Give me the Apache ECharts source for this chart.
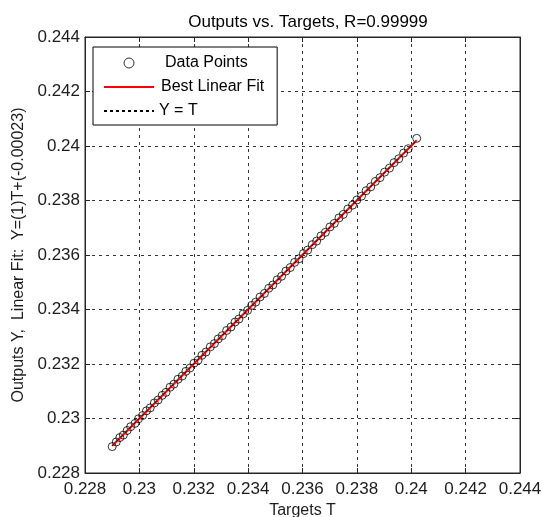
<!DOCTYPE html>
<html><head><meta charset="utf-8">
<script src="https://cdn.jsdelivr.net/npm/echarts@6/dist/echarts.min.js"></script>
<style>html,body{margin:0;padding:0;background:#fff}#c{width:542px;height:517px}</style>
</head><body><div id="c"></div>
<script>
var targetsT = [0.22900,0.22915,0.22928,0.22941,0.22955,0.22968,0.22984,0.22997,0.23012,0.23026,0.23040,0.23055,0.23069,0.23084,0.23098,0.23113,0.23127,0.23142,0.23158,0.23171,0.23186,0.23201,0.23216,0.23230,0.23245,0.23261,0.23276,0.23290,0.23305,0.23321,0.23337,0.23352,0.23366,0.23382,0.23398,0.23413,0.23428,0.23444,0.23460,0.23476,0.23491,0.23507,0.23523,0.23539,0.23555,0.23571,0.23587,0.23603,0.23619,0.23636,0.23652,0.23668,0.23684,0.23701,0.23717,0.23734,0.23750,0.23767,0.23784,0.23800,0.23817,0.23834,0.23851,0.23868,0.23885,0.23902,0.23920,0.23937,0.23954,0.23972,0.23989,0.24020];
var outputsY = [0.22897,0.22914,0.22930,0.22939,0.22956,0.22970,0.22982,0.22999,0.23011,0.23028,0.23039,0.23057,0.23068,0.23085,0.23096,0.23115,0.23126,0.23144,0.23156,0.23173,0.23185,0.23203,0.23214,0.23232,0.23244,0.23263,0.23275,0.23292,0.23304,0.23323,0.23336,0.23354,0.23365,0.23384,0.23397,0.23415,0.23427,0.23446,0.23459,0.23478,0.23490,0.23509,0.23522,0.23541,0.23554,0.23573,0.23586,0.23605,0.23618,0.23638,0.23651,0.23670,0.23683,0.23703,0.23716,0.23736,0.23749,0.23769,0.23783,0.23802,0.23816,0.23836,0.23850,0.23870,0.23884,0.23904,0.23919,0.23939,0.23953,0.23974,0.23990,0.24028];
var fitT = [0.2290, 0.2402];
var fitY = [0.22900, 0.24021];
var identT = [0.2290, 0.2402];
var identY = [0.2290, 0.2402];
var axisMin = 0.228, axisMax = 0.244, axisStep = 0.002;
var titleText = 'Outputs vs. Targets, R=0.99999';
var xName = 'Targets T';
var yName = 'Outputs Y,  Linear Fit:  Y=(1)T+(-0.00023)';
var legendNames = ['Data Points', 'Best Linear Fit', 'Y = T'];

function pairs(a, b){ return a.map(function(v,i){ return [v, b[i]]; }); }
var font = 'Liberation Sans, Arial, sans-serif';
var txtColor = '#1c1c1c';
var gridLine = {show:true, lineStyle:{color:'#333', type:[3,4], width:1}};
var hiddenSym = {color:'rgba(0,0,0,0)', borderColor:'rgba(0,0,0,0)', borderWidth:0, opacity:0};
var chart = echarts.init(document.getElementById('c'), null, {renderer:'canvas'});
function mkAxis(pos, isX, main){
  return {
    type:'value', min:axisMin, max:axisMax, interval:axisStep, position:pos,
    name: main ? (isX ? xName : yName) : '',
    nameLocation:'middle', nameGap: isX ? 30 : 56,
    nameTextStyle:{color:txtColor, fontFamily:font, fontSize:16},
    axisLine:{show:true, onZero:false, lineStyle:{color:'#262626', width:1}},
    axisTick:{show:true, inside:true, length:5, lineStyle:{color:'#262626'}},
    axisLabel:{show:main, color:txtColor, fontFamily:font, fontSize:17, margin: isX ? 8 : 5},
    splitLine: main ? gridLine : {show:false}
  };
}
chart.setOption({
  animation:false,
  backgroundColor:'#fff',
  title:{text:titleText, left:303, textAlign:'center', top:9, textStyle:{color:'#000', fontFamily:font, fontSize:17, fontWeight:'normal'}},
  grid:{left:85, right:22, top:37, bottom:44, show:true, borderColor:'#262626', borderWidth:1, containLabel:false, outerBoundsMode:'none'},
  legend:{
    orient:'vertical', left:93, top:47, padding:[8,13,6,10], itemGap:8, itemWidth:50, itemHeight:10,
    backgroundColor:'#fff', borderColor:'#000', borderWidth:1, borderRadius:0,
    textStyle:{color:'#000', fontFamily:font, fontSize:16, lineHeight:16},
    data:[
      {name:legendNames[0], icon:'circle', itemStyle:{color:'#fff', borderColor:'#000', borderWidth:1}, textStyle:{padding:[0,0,0,6]}},
      {name:legendNames[1], itemStyle:hiddenSym, textStyle:{padding:[0,0,0,2]}},
      {name:legendNames[2], itemStyle:hiddenSym}
    ]
  },
  xAxis:[mkAxis('bottom', true, true), mkAxis('top', true, false)],
  yAxis:[mkAxis('left', false, true), mkAxis('right', false, false)],
  series:[
    {name:legendNames[0], type:'scatter', data:pairs(targetsT, outputsY), symbol:'circle', symbolSize:8,
      itemStyle:{color:'rgba(255,255,255,0)', borderColor:'#000', borderWidth:1}, z:2},
    {name:legendNames[1], type:'line', data:pairs(fitT, fitY), symbol:'none', showSymbol:false,
      lineStyle:{color:'#ff0000', width:2}, itemStyle:{color:'#ff0000'}, z:3},
    {name:legendNames[2], type:'line', data:pairs(identT, identY), symbol:'none', showSymbol:false,
      lineStyle:{color:'#000', width:1, type:[3,3]}, itemStyle:{color:'#000'}, z:4}
  ]
});
</script></body></html>
